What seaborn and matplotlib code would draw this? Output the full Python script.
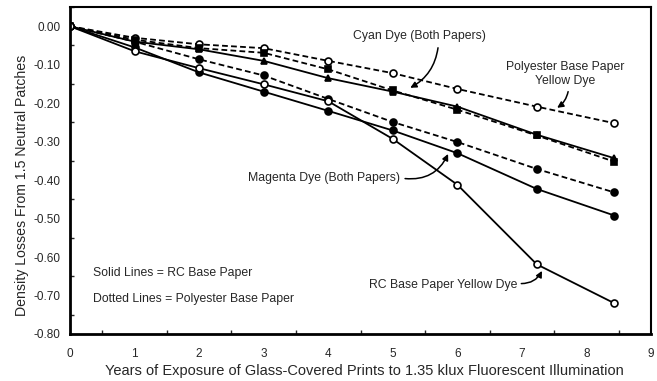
import matplotlib
matplotlib.use("Agg")
import matplotlib.pyplot as plt
import seaborn as sns
import pandas as pd
from matplotlib.ticker import MultipleLocator

years = [0, 1, 2, 3, 4, 5, 6, 7.23, 8.43]
poly_yellow = [0, -0.030, -0.047, -0.057, -0.090, -0.122, -0.163, -0.209, -0.252]
cyan_poly = [0, -0.035, -0.057, -0.069, -0.112, -0.167, -0.217, -0.284, -0.352]
cyan_rc = [0, -0.040, -0.060, -0.090, -0.135, -0.170, -0.209, -0.282, -0.343]
magenta_poly = [0, -0.040, -0.086, -0.128, -0.189, -0.249, -0.301, -0.371, -0.432]
magenta_rc = [0, -0.055, -0.120, -0.170, -0.220, -0.271, -0.330, -0.423, -0.492]
rc_yellow = [0, -0.065, -0.109, -0.151, -0.195, -0.293, -0.412, -0.619, -0.720]

x_ticks = [0, 1, 2, 3, 4, 5, 6, 7, 8, 9]
y_ticks = [0.0, -0.1, -0.2, -0.3, -0.4, -0.5, -0.6, -0.7, -0.8]

sns.set_style("white")
plt.rcParams['font.family'] = ['Liberation Sans', 'DejaVu Sans']

fig = plt.figure(figsize=(6.57, 3.81), dpi=100)
ax = fig.add_axes([0.1065, 0.1234, 0.8845, 0.8582])

series = [
    (poly_yellow, "--", "o", "white"),
    (cyan_poly, "--", "s", "black"),
    (cyan_rc, "-", "^", "black"),
    (magenta_poly, "--", "o", "black"),
    (magenta_rc, "-", "o", "black"),
    (rc_yellow, "-", "o", "white"),
]
for vals, ls, mk, fc in series:
    df = pd.DataFrame({"x": years, "y": vals})
    sns.lineplot(data=df, x="x", y="y", ax=ax, color="black", linestyle=ls,
                 linewidth=1.3, marker=mk, markersize=5, markerfacecolor=fc,
                 markeredgecolor="black", markeredgewidth=1.2)
    if ls == "--":
        ax.lines[-1].set_dashes((3.2, 1.8))

ax.set_xlim(0, 9)
ax.set_ylim(-0.80, 0.05)
ax.set_xticks(x_ticks)
ax.set_yticks(y_ticks)
ax.set_yticklabels([f"{v:.2f}" if v != 0 else "0.00" for v in y_ticks])
ax.xaxis.set_minor_locator(MultipleLocator(0.5))
ax.yaxis.set_minor_locator(MultipleLocator(0.05))
ax.tick_params(axis="y", which="major", direction="out", length=4, width=1.3, labelsize=8.5, pad=3)
ax.tick_params(axis="y", which="minor", direction="in", length=3, width=1.0, left=True)
ax.tick_params(axis="x", which="major", direction="inout", length=6, width=1.3, labelsize=8.5, pad=7)
ax.tick_params(axis="x", which="minor", direction="in", length=3, width=1.0, bottom=True)
for s in ax.spines.values():
    s.set_visible(True)
    s.set_color("black")
ax.spines["left"].set_linewidth(2.0)
ax.spines["bottom"].set_linewidth(2.0)
ax.spines["top"].set_linewidth(1.5)
ax.spines["right"].set_linewidth(1.5)

ax.set_xlabel("Years of Exposure of Glass-Covered Prints to 1.35 klux Fluorescent Illumination",
              fontsize=10.5)
ax.xaxis.set_label_coords(0.5065, -0.093)
ax.set_ylabel("Density Losses From 1.5 Neutral Patches", fontsize=10.2)
ax.yaxis.set_label_coords(-0.071, 0.456)

fs = 8.8
def arrow(start, end, rad):
    ax.annotate("", xy=end, xytext=start,
                arrowprops=dict(arrowstyle="-|>", color="black", lw=1.1, mutation_scale=9,
                                connectionstyle=f"arc3,rad={rad}", shrinkA=0, shrinkB=0))

ax.text(5.42, -0.025, "Cyan Dye (Both Papers)", fontsize=fs, ha="center", va="center")
arrow((5.70, -0.056), (5.27, -0.160), -0.25)
ax.text(7.67, -0.124, "Polyester Base Paper\nYellow Dye", fontsize=fs, ha="center",
        va="center", linespacing=1.25)
arrow((7.715, -0.170), (7.545, -0.212), -0.2)
ax.text(5.11, -0.394, "Magenta Dye (Both Papers)", fontsize=fs, ha="right", va="center")
arrow((5.19, -0.396), (5.856, -0.332), 0.35)
ax.text(4.63, -0.672, "RC Base Paper Yellow Dye", fontsize=fs, ha="left", va="center")
arrow((6.99, -0.669), (7.31, -0.636), 0.3)
ax.text(0.356, -0.641, "Solid Lines = RC Base Paper", fontsize=fs, ha="left", va="center")
ax.text(0.356, -0.709, "Dotted Lines = Polyester Base Paper", fontsize=fs, ha="left", va="center")

fig.savefig("out.png", dpi=100)
